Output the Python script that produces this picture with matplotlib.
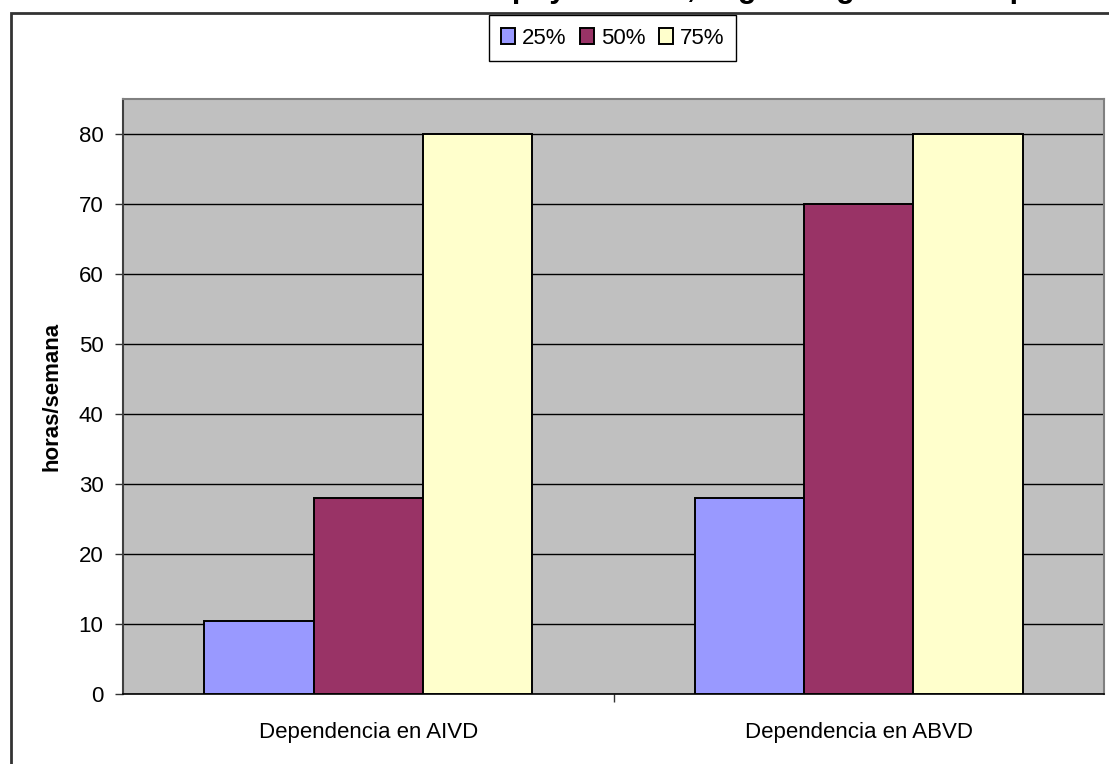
import matplotlib
matplotlib.use("Agg")
import matplotlib.pyplot as plt
import numpy as np
from matplotlib.patches import Rectangle

# data
categories = ["Dependencia en AIVD", "Dependencia en ABVD"]
series_labels = ["25%", "50%", "75%"]
values_25 = [10.5, 28]
values_50 = [28, 70]
values_75 = [80, 80]
y_ticks = [0, 10, 20, 30, 40, 50, 60, 70, 80]

title_prefix = "Horas semanales de "
title_rest = "apoyo formal, según el grado de dependencia"

colors = ["#9999FF", "#993366", "#FFFFCC"]

plt.rcParams["font.family"] = ["Liberation Sans", "DejaVu Sans"]

W, H = 1109, 764
fig = plt.figure(figsize=(W / 100, H / 100), dpi=100)

# chart frame (runs off the right and bottom edges)
fig.add_artist(Rectangle((11 / W, -0.2), 1.2, 1.2 - 13 / H, transform=fig.transFigure,
                         fill=False, edgecolor="#333333", linewidth=2))

ax = fig.add_axes([123 / W, (H - 694) / H, 981 / W, 595 / H])
ax.set_facecolor("#C0C0C0")

x = np.arange(len(categories))
w = 0.223
for i, (vals, lab) in enumerate(zip([values_25, values_50, values_75], series_labels)):
    ax.bar(x + (i - 1) * w, vals, width=w, color=colors[i], edgecolor="black",
           linewidth=1.4, label=lab, zorder=3)

ax.set_xlim(-0.5, 1.5)
ax.set_ylim(0, 85)
ax.set_yticks(y_ticks)
ax.tick_params(axis="y", labelsize=16, length=6, width=1, pad=8, color="#333333")
ax.yaxis.grid(True, color="black", linewidth=1)
ax.set_axisbelow(True)

ax.set_xticks(x)
ax.set_xticklabels(categories)
ax.tick_params(axis="x", which="major", length=0, labelsize=16, pad=20)
ax.set_xticks([0.5], minor=True)
ax.tick_params(axis="x", which="minor", length=6, width=1, color="#333333")

ax.set_ylabel("horas/semana", fontsize=16, fontweight="bold")
ax.yaxis.set_label_coords(-0.062, 0.5)

for side in ["top", "right"]:
    ax.spines[side].set_color("#808080")
    ax.spines[side].set_linewidth(1.5)
ax.spines["left"].set_color("#404040")
ax.spines["left"].set_linewidth(1.5)
ax.spines["bottom"].set_color("black")
ax.spines["bottom"].set_linewidth(1.2)

leg = ax.legend(loc="center", bbox_to_anchor=(612.5 / W, 1 - 38 / H),
                bbox_transform=fig.transFigure, ncol=3, fontsize=16,
                handlelength=0.65, handleheight=0.75, handletextpad=0.3,
                columnspacing=0.6, borderpad=0.55, fancybox=False,
                framealpha=1, edgecolor="black")
leg.get_frame().set_linewidth(1)

# title sits mostly above the top edge; only descenders are visible
renderer = fig.canvas.get_renderer()
probe = fig.text(0, 0, title_prefix, fontsize=22, fontweight="bold")
prefix_w = probe.get_window_extent(renderer).width
probe.remove()
fig.text((495 - prefix_w) / W, 1 + 2.5 / H, title_prefix + title_rest,
         fontsize=22, fontweight="bold", ha="left", va="baseline")

fig.savefig("out.png", dpi=100)
